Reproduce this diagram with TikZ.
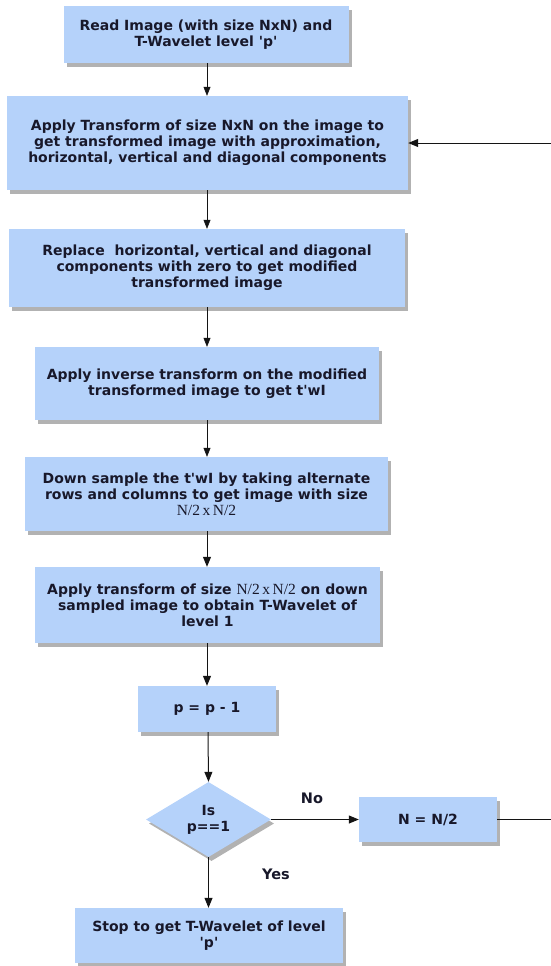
\documentclass[tikz,border=0pt]{standalone}
\usepackage{fontspec}
\usetikzlibrary{shapes.geometric,arrows.meta,shadows}
\newfontfamily\dvsans{DejaVu Sans}
\newfontfamily\tms{Liberation Serif}
\definecolor{boxblue}{RGB}{181,210,250}
\definecolor{txt}{RGB}{24,24,42}
\definecolor{arr}{RGB}{20,20,20}
\newcommand{\halfN}{{\tms\mdseries\fontsize{15.5}{16}\selectfont N/2\,x\,N/2}}
\tikzset{
  stepbox/.style={fill=boxblue, draw=none, text=txt, align=center, inner sep=0pt,
    font=\dvsans\bfseries\fontsize{14}{16}\selectfont,
    drop shadow={shadow xshift=3pt, shadow yshift=-4pt, fill=black, opacity=0.3}},
  thin arrow/.style={draw=arr, line width=0.6pt, -{Triangle[length=9pt,width=7pt]}},
  thick arrow/.style={draw=arr, line width=1pt, -{Triangle[length=10pt,width=8pt]}},
  lbl/.style={text=txt, font=\dvsans\bfseries\fontsize{14.5}{16}\selectfont}
}
\begin{document}
\begin{tikzpicture}[x=1pt,y=-1pt]
\useasboundingbox (0,0) rectangle (551,966);
\clip (0,0) rectangle (551,966);
\node[stepbox, minimum width=285pt, minimum height=57pt] (b1) at (206,34.5)
  {Read Image (with size NxN) and\\T-Wavelet level 'p'};
\node[stepbox, minimum width=401pt, minimum height=94pt] (b2) at (207.5,143)
  {\vspace*{9pt}Apply Transform of size NxN on the image to\\get transformed image with approximation,\\horizontal, vertical and diagonal components};
\node[stepbox, minimum width=396pt, minimum height=78pt] (b3) at (207,268)
  {Replace\ \ horizontal, vertical and diagonal\\components with zero to get modified\\transformed image};
\node[stepbox, minimum width=344pt, minimum height=73pt] (b4) at (207,383.5)
  {Apply inverse transform on the modified\\transformed image to get t'wI};
\node[stepbox, minimum width=363pt, minimum height=74pt] (b5) at (206.5,494)
  {Down sample the t'wI by taking alternate\\rows and columns to get image with size\\\halfN};
\node[stepbox, minimum width=345pt, minimum height=76pt] (b6) at (207.5,605)
  {Apply transform of size \halfN{} on down\\sampled image to obtain T-Wavelet of\\level 1};
\node[stepbox, minimum width=138pt, minimum height=46pt] (b7) at (207,709)
  {p = p - 1};
\node[stepbox, shape=diamond, aspect=1.667, minimum width=125pt, minimum height=75pt] (d) at (208.5,819.5)
  {Is\\p==1};
\node[stepbox, minimum width=138pt, minimum height=45pt] (nb) at (428,819.5)
  {N = N/2};
\node[stepbox, minimum width=268pt, minimum height=55pt] (stop) at (209,935.5)
  {Stop to get T-Wavelet of level\\'p'};
\coordinate (rt) at (570,819.5);
\draw[thin arrow] (b1.south -| 207,0) -- (b2.north -| 207,0);
\draw[thin arrow] (b2.south -| 207,0) -- (b3.north -| 207,0);
\draw[thin arrow] (b3.south -| 207,0) -- (b4.north -| 207,0);
\draw[thin arrow] (b4.south -| 207,0) -- (b5.north -| 207,0);
\draw[thick arrow] (b5.south -| 207,0) -- (b6.north -| 207,0);
\draw[thick arrow] (b6.south -| 207,0) -- (b7.north -| 207,0);
\draw[thick arrow] (b7.south -| 208,0) -- (d.north);
\draw[thick arrow] (d.south) -- (stop.north -| d.south);
\draw[thick arrow] (d.east) -- (nb.west);
\draw[thick arrow] (nb.east) -- (rt) |- (b2.east);
\node[lbl] (no) at (312,798) {No};
\node[lbl] (yes) at (276,874) {Yes};
\end{tikzpicture}
\end{document}
